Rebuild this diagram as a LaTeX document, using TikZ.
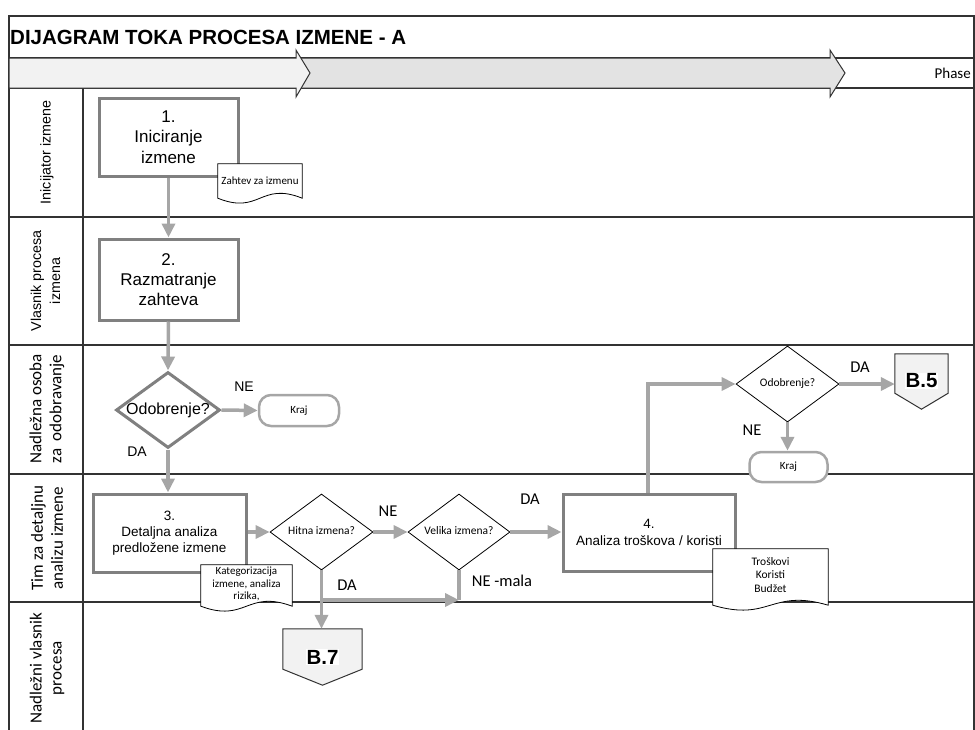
\documentclass[tikz,border=0pt]{standalone}
\usepackage{fontspec}
\setmainfont{Liberation Sans}
\newfontfamily\calib{Carlito}
\newfontfamily\arialf{Liberation Sans}
\usetikzlibrary{shapes.geometric,arrows.meta,calc}
\definecolor{boxgray}{HTML}{808080}
\definecolor{flowgray}{HTML}{A6A6A6}
\definecolor{linedark}{HTML}{333333}
\definecolor{phaseA}{HTML}{F2F2F2}
\definecolor{phaseB}{HTML}{E3E3E3}
\definecolor{pagefill}{HTML}{F2F2F2}
\newcommand\fsz[2]{\fontsize{#1}{#2}\selectfont}
% zero-size label so a diamond keeps its given size
\newcommand\decolabel[1]{\makebox[0pt]{\raisebox{-.5ex}[0pt][0pt]{#1}}}
% document symbol with a wavy lower edge, drawn from a frame node
\newcommand\docshape[1]{%
  \draw[docline] (#1.north west) -- (#1.north east) -- (#1.south east)
    .. controls ($(#1.south)+(0,-17)$) and ($(#1.south)+(0,17)$) .. (#1.south west) -- cycle;}
% off-page connector drawn from its upper frame node
\newcommand\pageshape[1]{%
  \draw[pageline] (#1.north west) -- (#1.north east) -- (#1.south east)
    -- ($(#1.south)+(0,16)$) -- (#1.south west) -- cycle;}

\begin{document}
\begin{tikzpicture}[x=1pt,y=-1pt,
  lane/.style={draw=linedark, line width=1.2pt},
  proc/.style={draw=boxgray, line width=3pt, fill=white, align=center, inner sep=0pt},
  bigdec/.style={diamond, draw=boxgray, line width=3pt, fill=white, inner sep=0pt,
    font=\arialf\fsz{16}{18}},
  smalldec/.style={diamond, draw=black, line width=0.8pt, fill=white, inner sep=0pt,
    font=\calib\fsz{11.5}{14}},
  term/.style={draw=flowgray, line width=2.5pt, fill=white, rounded corners=12pt,
    inner sep=0pt, font=\calib\fsz{11}{13}},
  docframe/.style={draw=none, inner sep=0pt},
  docline/.style={draw=black, line width=0.8pt, fill=white},
  doctext/.style={align=center, inner sep=0pt, font=\calib\fsz{11}{12.5}},
  pageframe/.style={draw=none, inner sep=0pt},
  pageline/.style={draw=linedark, line width=1pt, fill=pagefill},
  pagetext/.style={fill=white, inner sep=1pt, font=\arialf\bfseries\fsz{20.5}{22}},
  flow/.style={draw=flowgray, line width=3.5pt, -{Triangle[length=14pt,width=13pt]}},
  flowline/.style={draw=flowgray, line width=3.5pt},
  condA/.style={inner sep=0pt, font=\arialf\fsz{14}{16}},
  condB/.style={inner sep=0pt, font=\calib\fsz{16.5}{18}},
  lanelabelA/.style={rotate=90, align=center, inner sep=0pt, font=\arialf\fsz{14.3}{19}},
  lanelabelB/.style={rotate=90, align=center, inner sep=0pt, font=\calib\fsz{17}{20}},
  phasearrow/.style={draw=linedark, line width=1pt}
]
\useasboundingbox (0,0) rectangle (975,729);

% ---------- frame, title and phase band ----------
\draw[lane] (9,735) -- (9,16) -- (974,16) -- (974,735);
\node[anchor=base west, inner sep=0pt, font=\arialf\bfseries\fsz{20.5}{24}] (title) at (10,44)
  {DIJAGRAM TOKA PROCESA IZMENE - A};
\draw[lane] (9,58) -- (974,58);
\draw[lane] (9,88) -- (974,88);
\draw[phasearrow, fill=phaseB] (296,58) -- (830,58) -- (830,50) -- (845,73) -- (830,97)
  -- (830,88) -- (296,88) -- cycle;
\draw[phasearrow, fill=phaseA] (9,58) -- (296,58) -- (296,50) -- (310,73) -- (296,97)
  -- (296,88) -- (9,88) -- cycle;
\node[anchor=east, inner sep=0pt, font=\calib\fsz{15}{17}] (phase) at (971,73) {Phase};

% ---------- swimlanes ----------
\draw[lane] (83,88) -- (83,735);
\draw[lane] (9,217) -- (974,217);
\draw[lane] (9,345) -- (974,345);
\draw[lane] (9,474) -- (974,474);
\draw[lane] (9,602) -- (974,602);

\node[lanelabelA] (l1) at (47,152.5) {Inicijator izmene};
\node[lanelabelA] (l2) at (45.5,281) {Vlasnik procesa\\izmena};
\node[lanelabelB] (l3) at (47,409) {Nadležna osoba\\za~~odobravanje};
\node[lanelabelB] (l4) at (47,538) {Tim za detaljnu\\analizu izmene};
\node[lanelabelB] (l5) at (47,668) {Nadležni vlasnik\\procesa};

% ---------- process steps ----------
\node[proc, minimum width=139pt, minimum height=78pt, font=\arialf\fsz{17}{20.5}] (s1)
  at (168.5,137) {1.\\Iniciranje\\izmene};
\node[proc, minimum width=139pt, minimum height=81pt, font=\arialf\fsz{17}{20}] (s2)
  at (168.5,279.5) {2.\\Razmatranje\\zahteva};
\node[bigdec, minimum width=104pt, minimum height=76pt] (d1) at (168,410) {\decolabel{Odobrenje?}};
\node[term, minimum width=80pt, minimum height=31pt] (k1) at (299,410.5) {Kraj};
\node[proc, minimum width=153pt, minimum height=78pt, font=\arialf\fsz{13.5}{16}] (s3)
  at (169.5,533) {3.\\Detaljna analiza\\predložene izmene};
\node[smalldec, minimum width=103pt, minimum height=76pt] (hit) at (321.5,532) {\decolabel{Hitna izmena?}};
\node[smalldec, minimum width=102pt, minimum height=76pt] (vel) at (459,532) {\decolabel{Velika izmena?}};
\node[proc, minimum width=172pt, minimum height=77pt, font=\arialf\fsz{13.5}{17}] (s4)
  at (649,532.5) {4.\\Analiza troškova / koristi};
\node[smalldec, minimum width=103pt, minimum height=76pt] (d2) at (787.5,384) {\decolabel{Odobrenje?}};
\node[term, minimum width=78pt, minimum height=30pt] (k2) at (788.5,467) {Kraj};

% off-page connectors
\node[pageframe, minimum width=53pt, minimum height=39pt] (b5) at (921.5,373.5) {};
\pageshape{b5}
\node[pagetext] (b5t) at (921.5,381) {B.5};
\node[pageframe, minimum width=79pt, minimum height=40pt] (b7) at (322.5,649) {};
\pageshape{b7}
\node[pagetext] (b7t) at (322.5,657) {B.7};

% ---------- connectors ----------
\draw[flow] (s1.south) -- (s2.north);
\draw[flow] (s2.south) -- (d1.north);
\draw[flow] (d1.east) -- (k1.west);
\node[condA] (ne1) at (244,387) {NE};
\draw[flow] (d1.south) -- (d1.south |- s3.north);
\node[condA] (da1) at (137,452) {DA};
\draw[flow] (s3.east |- hit.west) -- (hit.west);
\draw[flow] (hit.east) -- (vel.west);
\node[condB] (ne2) at (388,511) {NE};
\draw[flow] (vel.east) -- (s4.west |- vel.east);
\node[condB] (da2) at (530,499) {DA};
\draw[flow] (s4.north -| 648,0) |- (d2.west);
\draw[flow] (d2.east) -- (d2.east -| b5.west);
\node[condB] (da3) at (860,367) {DA};
\draw[flow] (d2.south) -- (d2.south |- k2.north);
\node[condB] (ne3) at (752,430) {NE};
\coordinate (join) at (321.5,600);
\draw[flow] (hit.south) -- (hit.south |- b7.north);
\node[condB] (da4) at (347,585) {DA};
\draw[flowline] (vel.south) -- (vel.south |- join);
\draw[flow] (join) -- (vel.south |- join);
\node[condB] (ne4) at (502,581) {NE -mala};

% ---------- documents ----------
\node[docframe, minimum width=84pt, minimum height=34pt] (doc1) at (260,181) {};
\docshape{doc1}
\node[doctext] (doc1t) at (doc1.center) {Zahtev za izmenu};
\node[docframe, minimum width=91pt, minimum height=41pt] (doc2) at (246.5,585.5) {};
\docshape{doc2}
\node[doctext] (doc2t) at (246.5,584) {Kategorizacija\\izmene, analiza\\rizika,};
\node[docframe, minimum width=115pt, minimum height=56pt] (doc3) at (770.5,577) {};
\docshape{doc3}
\node[doctext, font=\calib\fsz{11.5}{13.5}] (doc3t) at (770.5,575) {Troškovi\\Koristi\\Budžet};
\end{tikzpicture}
\end{document}
